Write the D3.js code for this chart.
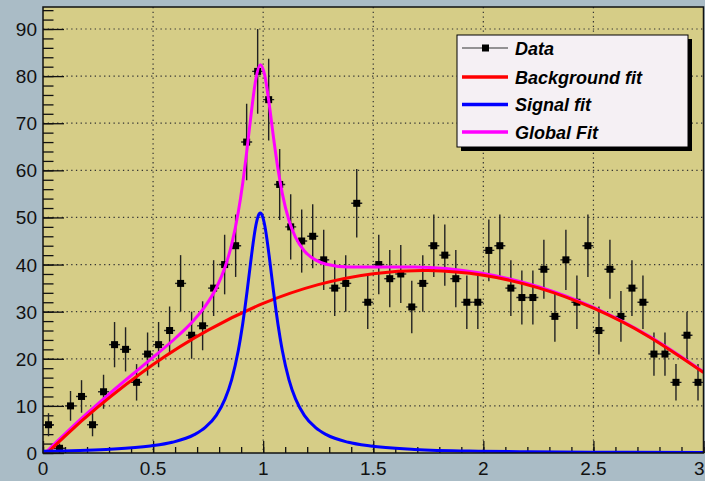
<!DOCTYPE html>
<html>
<head>
<meta charset="utf-8">
<script src="https://cdn.jsdelivr.net/npm/d3@7"></script>
<style>
  html, body { margin: 0; padding: 0; background: #aabcc6; }
  svg { display: block; }
  text { font-family: "Liberation Sans", Arial, Helvetica, sans-serif; }
</style>
</head>
<body>
<script>
// ---- Data (histogram bins) ----
const binCenters = [0.025,0.075,0.125,0.175,0.225,0.275,0.325,0.375,0.425,0.475,
  0.525,0.575,0.625,0.675,0.725,0.775,0.825,0.875,0.925,0.975,
  1.025,1.075,1.125,1.175,1.225,1.275,1.325,1.375,1.425,1.475,
  1.525,1.575,1.625,1.675,1.725,1.775,1.825,1.875,1.925,1.975,
  2.025,2.075,2.125,2.175,2.225,2.275,2.325,2.375,2.425,2.475,
  2.525,2.575,2.625,2.675,2.725,2.775,2.825,2.875,2.925,2.975];
const counts = [6,1,10,12,6,13,23,22,15,21,
  23,26,36,25,27,35,40,44,66,81,
  75,57,48,45,46,41,35,36,53,32,
  40,37,38,31,36,44,42,37,32,32,
  43,44,35,33,33,39,29,41,32,44,
  26,39,29,35,32,21,21,15,25,15];
const errors = [2.45,1,3.16,3.46,2.45,3.61,4.80,4.69,3.87,4.58,
  4.80,5.10,6,5,5.20,5.92,6.32,6.63,8.12,9,
  8.66,7.55,6.93,6.71,6.78,6.40,5.92,6,7.28,5.66,
  6.32,6.08,6.16,5.57,6,6.63,6.48,6.08,5.66,5.66,
  6.56,6.63,5.92,5.74,5.74,6.24,5.39,6.40,5.66,6.63,
  5.10,6.24,5.39,5.92,5.66,4.58,4.58,3.87,5,3.87];
const binHalfWidth = 0.025;

// ---- Fit curves (sampled) ----
const bgX = [0,0.1,0.25,0.5,0.75,1,1.25,1.5,1.75,2,2.25,2.5,2.75,3];
const bgY = [-0.865,3.594,9.783,18.768,26.088,31.743,35.735,38.063,38.726,37.725,35.060,30.732,24.740,17.082];

const sigX = [0,0.287,0.487,0.587,0.687,0.737,0.787,0.827,0.857,0.887,0.897,0.907,0.917,0.927,0.937,0.947,0.957,0.967,0.977,0.987,
  0.997,1.007,1.017,1.027,1.037,1.047,1.057,1.067,1.077,1.087,1.117,1.147,1.187,1.237,1.287,1.387,1.487,1.687,1.987,2.2,2.487,2.987,3];
const sigY = [0.387,0.763,1.474,2.27,3.89,5.42,8.00,11.48,15.58,21.74,24.40,27.39,30.72,34.34,38.13,41.92,45.44,48.33,50.25,50.93,
  50.25,48.33,45.44,41.92,38.13,34.34,30.72,27.39,24.40,21.74,15.58,11.48,8.00,5.42,3.89,2.27,1.474,0.763,0.377,0.257,0.168,0.095,0.094];

const globX = [0,0.05,0.1,0.2,0.287,0.487,0.587,0.687,0.737,0.787,0.827,0.857,0.887,0.907,0.927,0.947,0.967,0.987,
  1.007,1.027,1.047,1.067,1.087,1.117,1.147,1.187,1.237,1.287,1.387,1.487,1.687,1.987,2.25,2.5,2.75,3];
const globY = [-0.478,1.826,4.072,8.39,11.981,19.816,23.774,28.29,31.17,35.03,39.49,44.29,51.13,57.22,64.60,72.60,79.42,82.42,
  80.21,74.18,66.96,60.37,55.06,49.40,45.77,42.89,40.99,40.08,39.49,39.46,39.48,38.20,35.297,30.897,24.862,17.175];

// ---- Axes / legend ----
const xTicks = [0,0.5,1,1.5,2,2.5,3];
const xTickLabels = ["0","0.5","1","1.5","2","2.5","3"];
const yTicks = [0,10,20,30,40,50,60,70,80,90];
const yTickLabels = ["0","10","20","30","40","50","60","70","80","90"];
const legendLabels = ["Data","Background fit","Signal fit","Global Fit"];
const legendColors = ["#333333","#ff0000","#0000ff","#ff00ff"];

// ---- Layout ----
const W = 705, H = 481;
const L = 43, R = 703.5, T = 7, B = 453;
const x = d3.scaleLinear().domain([0,3]).range([L,R]);
const y = d3.scaleLinear().domain([0,94.67]).range([B,T]);

const svg = d3.select("body").append("svg").attr("width",W).attr("height",H);
svg.append("rect").attr("width",W).attr("height",H).attr("fill","#aabcc6");

svg.append("defs").append("clipPath").attr("id","clip")
  .append("rect").attr("x",L).attr("y",T).attr("width",R-L).attr("height",B-T);

// plot area
svg.append("rect").attr("x",L).attr("y",T).attr("width",R-L).attr("height",B-T)
  .attr("fill","#d6cd87");

// grid
const grid = svg.append("g").attr("stroke","#333").attr("stroke-width",1.2)
  .attr("stroke-dasharray","1.3,3.4");
grid.selectAll("line.gx").data(xTicks.filter(t=>t>0&&t<3)).enter().append("line")
  .attr("x1",d=>x(d)).attr("x2",d=>x(d)).attr("y1",T).attr("y2",B);
grid.selectAll("line.gy").data(yTicks.filter(t=>t>0)).enter().append("line")
  .attr("x1",L).attr("x2",R).attr("y1",d=>y(d)).attr("y2",d=>y(d));

// axes with d3
const xAxisMajor = d3.axisTop(x).tickValues(xTicks).tickSize(12).tickFormat("");
const xAxisMinor = d3.axisTop(x).tickValues(d3.range(0,3.0001,0.1)).tickSize(6).tickFormat("");
const yAxisMajor = d3.axisRight(y).tickValues(yTicks).tickSize(21).tickFormat("");
const yAxisMinor = d3.axisRight(y).tickValues(d3.range(0,95,2)).tickSize(10.5).tickFormat("");
[xAxisMinor,xAxisMajor].forEach(a=>{
  const g = svg.append("g").attr("transform",`translate(0,${B})`).call(a);
  g.select(".domain").remove();
  g.selectAll("line").attr("stroke","#111").attr("stroke-width",1.3);
});
[yAxisMinor,yAxisMajor].forEach(a=>{
  const g = svg.append("g").attr("transform",`translate(${L},0)`).call(a);
  g.select(".domain").remove();
  g.selectAll("line").attr("stroke","#111").attr("stroke-width",1.3);
});

// tick labels
svg.append("g").selectAll("text").data(xTicks).enter().append("text")
  .attr("x",d=>d===3 ? W-0.5 : x(d)).attr("y",475)
  .attr("text-anchor",d=>d===3 ? "end" : "middle")
  .attr("font-size",19).attr("fill","#111").text((d,i)=>xTickLabels[i]);
svg.append("g").selectAll("text").data(yTicks).enter().append("text")
  .attr("x",37).attr("y",d=>y(d)+7).attr("text-anchor","end")
  .attr("font-size",19).attr("fill","#111").text((d,i)=>yTickLabels[i]);

// data points
const pts = svg.append("g").attr("clip-path","url(#clip)");
const pg = pts.selectAll("g").data(counts).enter().append("g");
pg.append("line").attr("x1",(d,i)=>x(binCenters[i])).attr("x2",(d,i)=>x(binCenters[i]))
  .attr("y1",(d,i)=>y(d-errors[i])).attr("y2",(d,i)=>y(d+errors[i]))
  .attr("stroke","#222").attr("stroke-width",1.4);
pg.append("line").attr("x1",(d,i)=>x(binCenters[i]-binHalfWidth)).attr("x2",(d,i)=>x(binCenters[i]+binHalfWidth))
  .attr("y1",d=>y(d)).attr("y2",d=>y(d))
  .attr("stroke","#222").attr("stroke-width",1.4);
pg.append("rect").attr("x",(d,i)=>x(binCenters[i])-3.5).attr("y",d=>y(d)-3.5)
  .attr("width",7).attr("height",7).attr("fill","#000");

// curves
const curves = svg.append("g").attr("clip-path","url(#clip)").attr("fill","none");
function drawCurve(xs, ys, color, curve) {
  const line = d3.line().x(d=>x(d[0])).y(d=>y(d[1])).curve(curve);
  curves.append("path").datum(xs.map((v,i)=>[v,ys[i]]))
    .attr("d",line).attr("stroke",color).attr("stroke-width",3).attr("stroke-linejoin","round");
}
drawCurve(globX, globY, "#ff00ff", d3.curveMonotoneX);
drawCurve(bgX, bgY, "#ff0000", d3.curveNatural);
drawCurve(sigX, sigY, "#0000ff", d3.curveMonotoneX);

// frame
svg.append("rect").attr("x",L).attr("y",T).attr("width",R-L).attr("height",B-T)
  .attr("fill","none").attr("stroke","#111").attr("stroke-width",1.5);

// legend
const lx = 457, ly = 35, lw = 231, lh = 112;
svg.append("rect").attr("x",lx+4).attr("y",ly+4).attr("width",lw).attr("height",lh).attr("fill","#000");
svg.append("rect").attr("x",lx).attr("y",ly).attr("width",lw).attr("height",lh)
  .attr("fill","#f5f0f4").attr("stroke","#000").attr("stroke-width",1);
const rowY = [48,77,104.5,132];
const lg = svg.append("g").selectAll("g").data(legendLabels).enter().append("g");
lg.append("line").attr("x1",462).attr("x2",508).attr("y1",(d,i)=>rowY[i]).attr("y2",(d,i)=>rowY[i])
  .attr("stroke",(d,i)=>legendColors[i]).attr("stroke-width",(d,i)=>i===0?1.2:3.5);
lg.filter((d,i)=>i===0).append("rect").attr("x",482).attr("y",rowY[0]-3.5).attr("width",7).attr("height",7).attr("fill","#000");
lg.append("text").attr("x",515).attr("y",(d,i)=>rowY[i]+6.5)
  .attr("font-size",18).attr("font-weight","bold").attr("font-style","italic").attr("fill","#000")
  .text(d=>d);
</script>
</body>
</html>
